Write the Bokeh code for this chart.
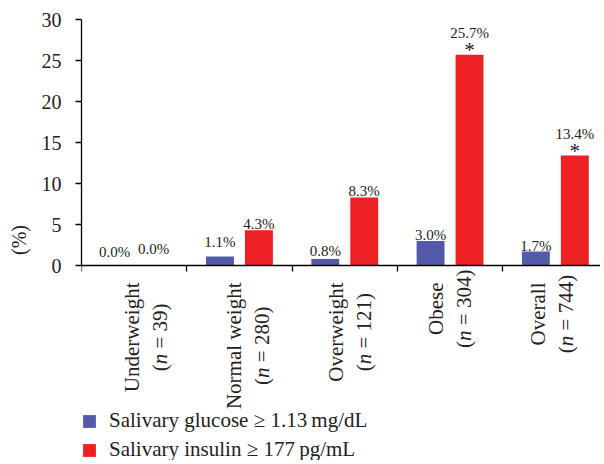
import math
from bokeh.plotting import figure
from bokeh.models import (ColumnDataSource, Range1d, FixedTicker, CustomJSTickFormatter,
                          Legend, LegendItem)
from bokeh.transform import dodge
from bokeh.embed import file_html
from bokeh.resources import INLINE
from bokeh.core.properties import value

# ---- data ----
categories = ["Underweight", "Normal weight", "Overweight", "Obese", "Overall"]
n_values = [39, 280, 121, 304, 744]
glucose = [0.0, 1.1, 0.8, 3.0, 1.7]
insulin = [0.0, 4.3, 8.3, 25.7, 13.4]
insulin_sig = [False, False, False, True, True]
series_names = ["Salivary glucose \u2265 1.13\u2009mg/dL", "Salivary insulin \u2265 177\u2009pg/mL"]
y_ticks = [0, 5, 10, 15, 20, 25, 30]

# ---- style ----
BLUE = "#525BA9"
RED = "#ED2024"
FONT = "Liberation Serif"
TXT = "#222222"

W, H = 600, 460
LEFT = 81
TOP = 19
AX_H = 246                      # pixel height of the 0..30 value axis
px_per_unit = AX_H / 30.0
y_min = -(H - TOP - AX_H) / px_per_unit   # frame extends down to hold labels/legend
x_end = (W - LEFT) / 105.3

# gap (px) between bar top and its value label
g_gap = [14, 14, 8, 6, 6]
i_gap = [17, 6, 6, 22, 22]
# horizontal shift (px) of the category label's first line from the group centre
cat_dx = [-2, -5, -9, -14, -17]
LINE_SEP = 28

xc = [i + 0.5 for i in range(len(categories))]
src = ColumnDataSource(dict(
    x=xc,
    glucose=glucose,
    insulin=insulin,
    g_lab=[f"{v:.1f}%" for v in glucose],
    i_lab=[f"{v:.1f}%" for v in insulin],
    g_off=[-g for g in g_gap],
    i_off=[-g for g in i_gap],
))
star_src = ColumnDataSource(dict(
    x=[x for x, s in zip(xc, insulin_sig) if s],
    y=[v for v, s in zip(insulin, insulin_sig) if s],
    t=["*" for s in insulin_sig if s],
))

p = figure(width=W, height=H, x_range=Range1d(0, x_end), y_range=Range1d(y_min, 30),
           output_backend="svg", toolbar_location=None,
           min_border_left=LEFT, min_border_right=0, min_border_top=TOP, min_border_bottom=0)
p.outline_line_color = None
p.grid.grid_line_color = None
p.background_fill_color = "white"

bw = 0.265
off = 0.185
rg = p.vbar(x=dodge("x", -off), top="glucose", width=bw, source=src, fill_color=BLUE, line_color=None)
ri = p.vbar(x=dodge("x", off), top="insulin", width=bw, source=src, fill_color=RED, line_color=None)

p.text(x=dodge("x", -off), y="glucose", text="g_lab", source=src, y_offset="g_off",
       text_align="center", text_baseline="alphabetic", text_font=value(FONT),
       text_font_size="15px", text_color=TXT)
p.text(x=dodge("x", off), y="insulin", text="i_lab", source=src, y_offset="i_off",
       text_align="center", text_baseline="alphabetic", text_font=value(FONT),
       text_font_size="15px", text_color=TXT)
p.text(x=dodge("x", off), y="y", text="t", source=star_src, y_offset=-5,
       text_align="center", text_baseline="alphabetic", text_font=value(FONT),
       text_font_size="21px", text_color=TXT)

# axes
for ax in (p.xaxis[0], p.yaxis[0]):
    ax.axis_line_color = "black"
    ax.axis_line_width = 1.3
    ax.major_tick_line_color = "black"
    ax.major_tick_line_width = 1.3
    ax.major_tick_in = 0
    ax.major_tick_out = 6
    ax.minor_tick_line_color = None
    ax.major_label_text_font = FONT
    ax.major_label_text_color = TXT

p.yaxis.ticker = FixedTicker(ticks=y_ticks)
p.yaxis.bounds = (0, 30)
p.yaxis.major_label_text_font_size = "20px"
p.yaxis.major_label_standoff = 14
p.yaxis.axis_label = "(%)"
p.yaxis.axis_label_text_font = FONT
p.yaxis.axis_label_text_font_style = "normal"
p.yaxis.axis_label_text_font_size = "20px"
p.yaxis.axis_label_text_color = TXT
p.yaxis.axis_label_standoff = 9

p.xaxis.ticker = FixedTicker(ticks=list(range(len(categories) + 1)))
p.xaxis.formatter = CustomJSTickFormatter(code="return ''")
p.xaxis.fixed_location = 0

# category labels (rotated, two lines, italic n)
TNR = {' ': 250, '\u00a0': 250, '(': 333, ')': 333, '=': 564, '.': 250, '%': 833,
       'U': 722, 'N': 722, 'O': 722, 'n': 500, 'd': 500, 'e': 444, 'r': 333, 'w': 722,
       'i': 278, 'g': 500, 'h': 500, 't': 278, 'o': 500, 'm': 778, 'a': 444, 'l': 278,
       'v': 500, 'b': 500, 's': 389}
for d in "0123456789":
    TNR[d] = 500

CAT_FS = 21


def tw(s):
    return sum(TNR.get(c, 500) for c in s) * CAT_FS / 1000.0


top_px = 17
l1 = dict(x=[], y=[], t=[], dx=[])
l2n = dict(x=[], y=[], t=[], dx=[])
l2i = dict(x=[], y=[], t=[], dx=[])
for i, (cat, n) in enumerate(zip(categories, n_values)):
    w1 = tw(cat)
    center = top_px + w1 / 2
    l1["x"].append(xc[i]); l1["y"].append(-top_px / px_per_unit); l1["t"].append(cat)
    l1["dx"].append(cat_dx[i])
    parts = [(f"\u00a0=\u00a0{n})", l2n), ("n", l2i), ("(", l2n)]
    w2 = sum(tw(t) for t, _ in parts)
    d = center - w2 / 2
    for t, store in parts:
        store["x"].append(xc[i]); store["y"].append(-d / px_per_unit); store["t"].append(t)
        store["dx"].append(cat_dx[i] + LINE_SEP)
        d += tw(t)

common = dict(angle=math.pi / 2, text_align="right", text_baseline="middle",
              text_font=value(FONT), text_font_size=f"{CAT_FS}px", text_color=TXT)
p.text(x="x", y="y", text="t", source=ColumnDataSource(l1), x_offset="dx", **common)
p.text(x="x", y="y", text="t", source=ColumnDataSource(l2n), x_offset="dx", **common)
p.text(x="x", y="y", text="t", source=ColumnDataSource(l2i), x_offset="dx",
       text_font_style="italic", **common)

legend = Legend(items=[LegendItem(label=series_names[0], renderers=[rg]),
                       LegendItem(label=series_names[1], renderers=[ri])],
                location=(0, -2), orientation="vertical",
                label_text_font=FONT, label_text_font_size="21px", label_text_color=TXT,
                glyph_width=16, glyph_height=16, label_standoff=12, spacing=4,
                padding=0, margin=0, border_line_color=None, background_fill_alpha=0)
p.add_layout(legend, "center")

open("out.html", "w").write(file_html(p, INLINE))
